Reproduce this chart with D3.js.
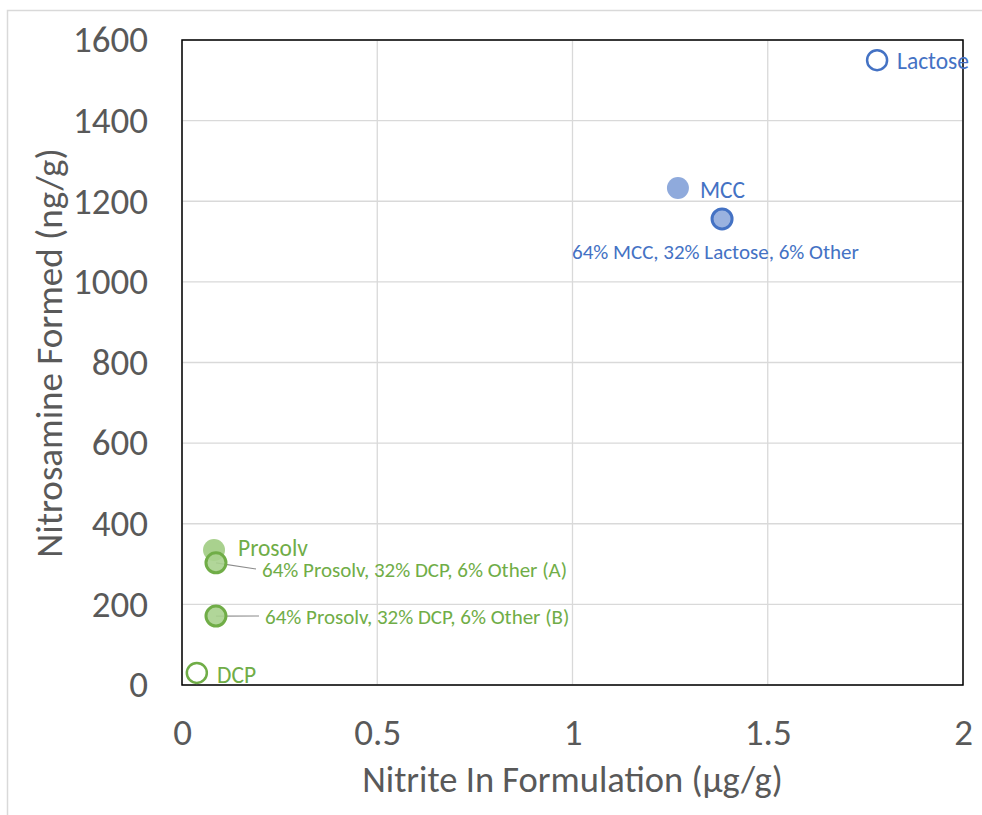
<!DOCTYPE html>
<html><head><meta charset="utf-8">
<script src="https://cdn.jsdelivr.net/npm/d3@7"></script>
<style>body{margin:0;background:#fff;} svg{display:block;}</style>
</head><body>
<svg id="c" width="982" height="815"></svg>
<script>
const names = ["Lactose","MCC","64% MCC, 32% Lactose, 6% Other","Prosolv","64% Prosolv, 32% DCP, 6% Other (A)","64% Prosolv, 32% DCP, 6% Other (B)","DCP"];
const nitrite = [1.78, 1.27, 1.383, 0.082, 0.087, 0.087, 0.038];
const nitrosamine = [1550, 1233, 1156, 335, 303, 171, 30];
const groups = ["blue","blue","blue","green","green","green","green"];
const kinds = ["open","filled","ringed","filled","ringed","ringed","open"];
const xTicks = [0, 0.5, 1, 1.5, 2];
const yTicks = [0,200,400,600,800,1000,1200,1400,1600];

const svg = d3.select("#c");
const font = "Carlito, Calibri, 'Liberation Sans Narrow', 'Open Sans', sans-serif";
const m = {l:182, r:963, t:40, b:685};
const x = d3.scaleLinear().domain([0,2]).range([m.l, m.r]);
const y = d3.scaleLinear().domain([0,1600]).range([m.b, m.t]);

const pal = {
  blue:{line:"#4472C4", fill:"#8FAADC"},
  green:{line:"#70AD47", fill:"#A9D18E"}
};

// outer chart border
svg.append("rect").attr("x",7.5).attr("y",10.5).attr("width",1100).attr("height",1100)
  .attr("fill","none").attr("stroke","#d9d9d9").attr("stroke-width",1.5);

// gridlines
svg.append("g").selectAll("line.gx").data(xTicks).join("line")
  .attr("x1",d=>x(d)).attr("x2",d=>x(d)).attr("y1",m.t).attr("y2",m.b)
  .attr("stroke","#d9d9d9").attr("stroke-width",1.3);
svg.append("g").selectAll("line.gy").data(yTicks).join("line")
  .attr("x1",m.l).attr("x2",m.r).attr("y1",d=>y(d)).attr("y2",d=>y(d))
  .attr("stroke","#d9d9d9").attr("stroke-width",1.3);

// axes (labels only)
const xAxis = svg.append("g").attr("transform",`translate(0,${m.b})`)
  .call(d3.axisBottom(x).tickValues(xTicks).tickSize(0).tickPadding(34).tickFormat(d=>String(d)));
const yAxis = svg.append("g").attr("transform",`translate(${m.l},0)`)
  .call(d3.axisLeft(y).tickValues(yTicks).tickSize(0).tickPadding(34).tickFormat(d=>String(d)));
[xAxis,yAxis].forEach(g=>{
  g.select(".domain").remove();
  g.selectAll("text").attr("font-family",font).attr("font-size",37).attr("fill","#595959");
});

// plot border
svg.append("rect").attr("x",m.l).attr("y",m.t).attr("width",m.r-m.l).attr("height",m.b-m.t)
  .attr("fill","none").attr("stroke","#000").attr("stroke-width",1.5);

// titles
svg.append("text").attr("x",(m.l+m.r)/2).attr("y",792).attr("text-anchor","middle")
  .attr("font-family",font).attr("font-size",36.5).attr("fill","#595959")
  .text("Nitrite In Formulation (µg/g)");
svg.append("text").attr("transform","translate(62,353) rotate(-90)").attr("text-anchor","middle")
  .attr("font-family",font).attr("font-size",37).attr("fill","#595959")
  .text("Nitrosamine Formed (ng/g)");

const data = names.map((n,i)=>({n, x:nitrite[i], y:nitrosamine[i], g:groups[i], k:kinds[i]}));

// leader lines for A and B
const leaders = {4:[262,569], 5:[265,616]};
Object.entries(leaders).forEach(([i,p])=>{
  const d = data[+i];
  svg.append("line").attr("x1",x(d.x)).attr("y1",y(d.y)).attr("x2",p[0]-6).attr("y2",p[1])
    .attr("stroke","#8c8c8c").attr("stroke-width",1.2);
});

// points
svg.append("g").selectAll("circle").data(data).join("circle")
  .attr("cx",d=>x(d.x)).attr("cy",d=>y(d.y))
  .attr("r",d=>d.k==="filled"?11:10)
  .attr("fill",d=>d.k==="open"?"#fff":pal[d.g].fill)
  .attr("fill-opacity",d=>d.k==="ringed"?0.9:1)
  .attr("stroke",d=>d.k==="filled"?"none":pal[d.g].line)
  .attr("stroke-width",d=>d.k==="open"?2.5:3);

// labels
const labelPos = [[897,61],[700,190],[572,252],[238,548],[262,570],[265,617],[217,675]];
svg.append("g").selectAll("text").data(data).join("text")
  .attr("x",(d,i)=>labelPos[i][0]).attr("y",(d,i)=>labelPos[i][1])
  .attr("dominant-baseline","central")
  .attr("font-family",font).attr("font-size",(d,i)=>i===0||i===1||i===3||i===6?23.5:21)
  .attr("fill",d=>pal[d.g].line)
  .text(d=>d.n);
</script>
</body></html>
